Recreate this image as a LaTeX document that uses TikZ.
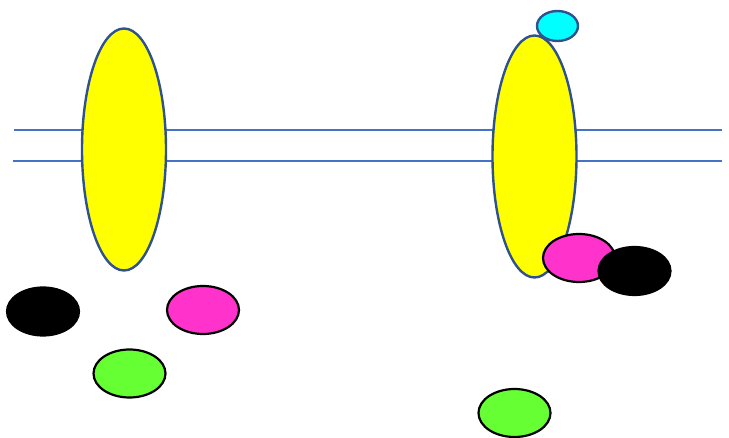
\documentclass[tikz,border=0pt]{standalone}
\usetikzlibrary{shapes.geometric}
\definecolor{memb}{HTML}{4472C4}
\definecolor{rim}{HTML}{2F528F}
\definecolor{yel}{HTML}{FFFF00}
\definecolor{cya}{HTML}{00FFFF}
\definecolor{mag}{HTML}{FF33CC}
\definecolor{grn}{HTML}{66FF33}
\tikzset{
  membrane/.style={draw=memb, line width=1.5pt},
  receptor/.style={ellipse, draw=rim, line width=2.4pt, fill=yel, inner sep=0pt, minimum width=84pt, minimum height=242pt},
  blob/.style={ellipse, draw=black, line width=2.2pt, inner sep=0pt, minimum width=72pt, minimum height=48pt},
  ligand/.style={ellipse, draw=rim, line width=2.4pt, fill=cya, inner sep=0pt, minimum width=41pt, minimum height=30pt}
}
\begin{document}
\begin{tikzpicture}[x=1pt, y=-1pt]
\useasboundingbox (0,0) rectangle (729,438);
\coordinate (m1a) at (14,130);
\coordinate (m1b) at (722,130);
\coordinate (m2a) at (13,161);
\coordinate (m2b) at (722,161);
\draw[membrane] (m1a) -- (m1b);
\draw[membrane] (m2a) -- (m2b);
\node[receptor] (rL) at (124,149.5) {};
\node[receptor] (rR) at (534.5,156.5) {};
\node[ligand] (cy) at (557.5,26) {};
\node[blob, fill=black] (kL) at (43,311.5) {};
\node[blob, fill=mag] (pL) at (203,310) {};
\node[blob, fill=grn] (gL) at (129.5,373.5) {};
\node[blob, fill=mag] (pR) at (579,258) {};
\node[blob, fill=black] (kR) at (634.5,271) {};
\node[blob, fill=grn] (gR) at (514.5,413) {};
\end{tikzpicture}
\end{document}
